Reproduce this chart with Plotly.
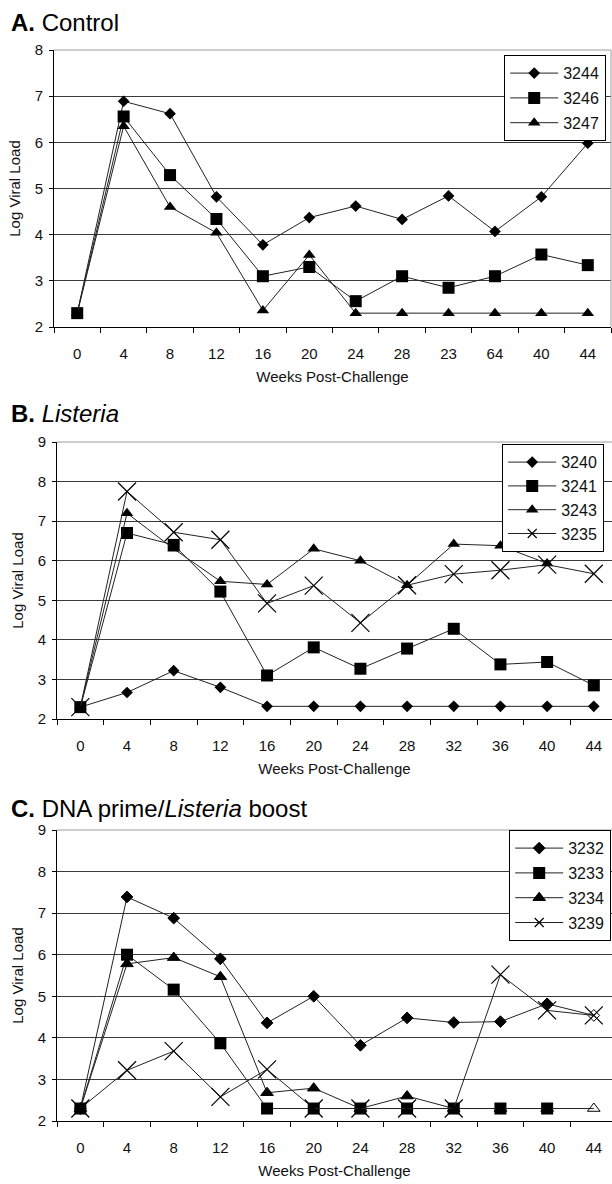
import plotly.graph_objects as go

# ---------------- data ----------------
weeks_A = ["0", "4", "8", "12", "16", "20", "24", "28", "23", "64", "40", "44"]
weeks_BC = ["0", "4", "8", "12", "16", "20", "24", "28", "32", "36", "40", "44"]

A_3244 = [2.3, 6.89, 6.62, 4.82, 3.78, 4.37, 4.62, 4.33, 4.84, 4.07, 4.82, 5.98]
A_3246 = [2.3, 6.56, 5.29, 4.34, 3.10, 3.30, 2.56, 3.10, 2.85, 3.10, 3.57, 3.34]
A_3247 = [2.3, 6.35, 4.60, 4.04, 2.36, 3.56, 2.30, 2.30, 2.30, 2.30, 2.30, 2.30]

B_3240 = [2.3, 2.67, 3.22, 2.80, 2.32, 2.32, 2.32, 2.32, 2.32, 2.32, 2.32, 2.32]
B_3241 = [2.3, 6.70, 6.40, 5.22, 3.10, 3.81, 3.27, 3.78, 4.28, 3.38, 3.44, 2.85]
B_3243 = [2.3, 7.20, 6.30, 5.48, 5.40, 6.30, 6.00, 5.38, 6.42, 6.38, 5.93, None]
B_3235 = [2.3, 7.75, 6.72, 6.53, 4.92, 5.37, 4.43, 5.38, 5.66, 5.76, 5.90, 5.67]

C_3232 = [2.3, 7.39, 6.88, 5.90, 4.36, 5.00, 3.82, 4.48, 4.37, 4.39, 4.82, 4.54]
C_3233 = [2.3, 6.00, 5.16, 3.87, 2.30, 2.30, 2.30, 2.30, 2.30, 2.30, 2.30, None]
C_3234 = [2.3, 5.78, 5.93, 5.47, 2.68, 2.79, 2.30, 2.60, 2.30, 2.30, 2.30, 2.30]
C_3239 = [2.3, 3.22, 3.68, 2.58, 3.24, 2.30, 2.30, 2.30, 2.30, 5.52, 4.66, 4.54]

# ---------------- styles ----------------
W, H = 612, 1184
FONT = "Arial, Liberation Sans, sans-serif"
LINE = dict(color="#222222", width=1)

def mk(kind, n=12, last_open=False, legend_proxy=False):
    if kind == "diamond":
        sym, size = "diamond", 9
    elif kind == "square":
        sym, size = "square", 12
    elif kind == "tri":
        sym, size = "triangle-up", 11
    else:
        return dict(symbol="x-thin-open", size=(9 if legend_proxy else 18),
                    color="black", line=dict(width=1.2, color="black"))
    if last_open:
        syms = [sym] * (n - 1) + [sym + "-open"]
        return dict(symbol=syms, size=size, color="black",
                    line=dict(width=1, color="black"))
    return dict(symbol=sym, size=size, color="black", line=dict(width=0))

fig = go.Figure()

def add(x, y, name, kind, ax, leg, last_open=False):
    proxy = kind == "x"
    fig.add_trace(go.Scatter(
        x=x, y=y, name=name, mode="lines+markers", line=LINE,
        marker=mk(kind, len(y), last_open), xaxis="x" + ax, yaxis="y" + ax,
        legend=leg, legendgroup=name, showlegend=not proxy, connectgaps=False))
    if proxy:
        # legend-only entry with a smaller symbol (as in the reference legend)
        fig.add_trace(go.Scatter(
            x=[None], y=[None], name=name, mode="lines+markers", line=LINE,
            marker=mk(kind, legend_proxy=True), xaxis="x" + ax, yaxis="y" + ax,
            legend=leg, legendgroup=name, showlegend=True, hoverinfo="skip"))

add(weeks_A, A_3244, "3244", "diamond", "", "legend")
add(weeks_A, A_3246, "3246", "square", "", "legend")
add(weeks_A, A_3247, "3247", "tri", "", "legend")

add(weeks_BC, B_3240, "3240", "diamond", "2", "legend2")
add(weeks_BC, B_3241, "3241", "square", "2", "legend2")
add(weeks_BC, B_3243, "3243", "tri", "2", "legend2")
add(weeks_BC, B_3235, "3235", "x", "2", "legend2")

add(weeks_BC, C_3232, "3232", "diamond", "3", "legend3", last_open=True)
add(weeks_BC, C_3233, "3233", "square", "3", "legend3")
add(weeks_BC, C_3234, "3234", "tri", "3", "legend3", last_open=True)
add(weeks_BC, C_3239, "3239", "x", "3", "legend3")

def py(p):
    return 1 - p / H

TF = dict(size=15, color="#111")

def xax(x0, x1, rng, yanchor):
    return dict(domain=[x0 / W, x1 / W], range=rng, type="category",
                anchor=yanchor, showline=True, linecolor="black", linewidth=1,
                ticks="outside", ticklen=5, tickcolor="black", tickson="boundaries",
                showgrid=False, tickfont=TF,
                ticklabelstandoff=13, automargin=False,
                title=dict(text="Weeks Post-Challenge", standoff=10, font=TF))

def yax(top, bot, ymax, xanchor):
    return dict(domain=[py(bot), py(top)], range=[2, ymax], dtick=1,
                anchor=xanchor, showline=True, linecolor="black", linewidth=1,
                ticks="outside", ticklen=4, tickcolor="black",
                showgrid=True, gridcolor="#3a3a3a", gridwidth=1, zeroline=False,
                tickfont=TF, ticklabelstandoff=3, automargin=False,
                title=dict(text="Log Viral Load", standoff=10, font=TF))

def leg(x, top, gap):
    return dict(x=x / W, y=py(top), xanchor="left", yanchor="top",
                bgcolor="white", bordercolor="black", borderwidth=1.2,
                font=dict(size=16, family=FONT, color="#111"),
                traceorder="grouped", tracegroupgap=gap, itemwidth=48,
                entrywidth=58, entrywidthmode="pixels")

fig.update_layout(
    width=W, height=H, margin=dict(l=0, r=0, t=0, b=0),
    paper_bgcolor="white", plot_bgcolor="white",
    font=dict(family=FONT, color="#111"),
    xaxis=xax(54, 611, [-0.5, 11.5], "y"),
    yaxis=yax(50, 327, 8, "x"),
    xaxis2=xax(57, 612, [-0.5, 11.39], "y2"),
    yaxis2=yax(442, 719, 9, "x2"),
    xaxis3=xax(57, 612, [-0.5, 11.39], "y3"),
    yaxis3=yax(830, 1121, 9, "x3"),
    legend=leg(504, 55, 1),
    legend2=leg(502, 444, 0),
    legend3=leg(509, 830, 1),
    showlegend=True,
)

# panel frames (top / right borders)
for ax, right in (("", True), ("2", False), ("3", False)):
    xr = "x" + ax + " domain"
    yr = "y" + ax + " domain"
    fig.add_shape(type="line", xref=xr, yref=yr, x0=0, x1=1, y0=1, y1=1,
                  line=dict(color="#9a9a9a", width=1))
    if right:
        fig.add_shape(type="line", xref=xr, yref=yr, x0=1, x1=1, y0=0, y1=1,
                      line=dict(color="#9a9a9a", width=1))

# panel titles
titles = [("<b>A.</b> Control", 23),
          ("<b>B.</b> <i>Listeria</i>", 413),
          ("<b>C.</b> DNA prime/<i>Listeria</i> boost", 809)]
for txt, yc in titles:
    fig.add_annotation(text=txt, xref="paper", yref="paper", x=9 / W, y=py(yc),
                       xanchor="left", yanchor="middle", showarrow=False,
                       font=dict(size=24, family=FONT, color="black"))

fig.write_html("out.html")
